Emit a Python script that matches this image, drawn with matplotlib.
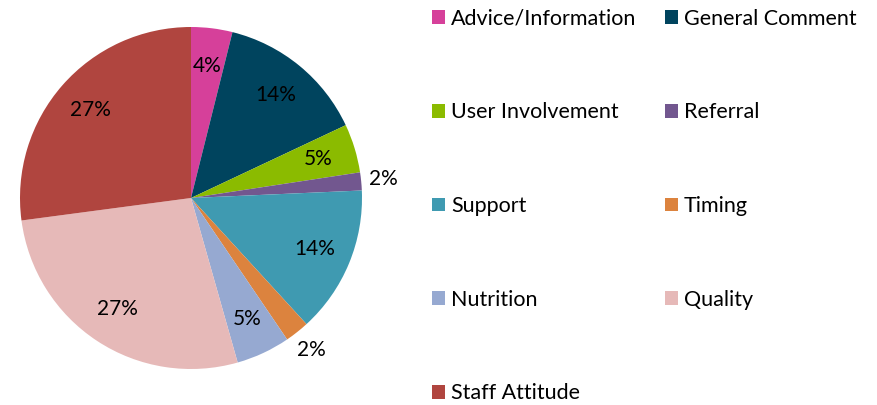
import matplotlib.pyplot as plt

# slice shares in percent, clockwise from 12 o'clock
categories = ['Advice/Information', 'General Comment', 'User Involvement', 'Referral',
              'Support', 'Timing', 'Nutrition', 'Quality', 'Staff Attitude']
shares = [3.9, 14.1, 4.6, 1.7, 13.9, 2.3, 5.1, 27.3, 27.1]
colors = ['#D6409A', '#00445E', '#8BBB00', '#72578F', '#3F9AB1',
          '#DC833E', '#96A9D1', '#E6B9B8', '#B0453F']

plt.rcParams['font.family'] = ['Lato', 'DejaVu Sans']

fig = plt.figure(figsize=(8.77, 4.05), dpi=100)
ax = fig.add_axes([20 / 877, 36 / 405, 342 / 877, 342 / 405])

wedges, texts, autotexts = ax.pie(shares, colors=colors, startangle=90, counterclock=False,
                                  autopct='%.0f%%', pctdistance=0.78,
                                  textprops={'fontsize': 15, 'color': 'black'})
# small slices get their labels outside
for i in (3, 5):
    x, y = autotexts[i].get_position()
    autotexts[i].set_position((x * 1.45, y * 1.45))
ax.set_xlim(-1, 1)
ax.set_ylim(-1, 1)
ax.set_aspect('equal')
ax.axis('off')

# legend fills row by row, two columns
order = [0, 2, 4, 6, 8, 1, 3, 5, 7]
leg = fig.legend([wedges[i] for i in order], [categories[i] for i in order],
                 ncol=2, loc='upper left', bbox_to_anchor=(419 / 877, 1.01),
                 frameon=False, fontsize=15.5, labelspacing=3.42,
                 handlelength=0.6, handleheight=0.6, handletextpad=0.3,
                 columnspacing=1.3, borderaxespad=0.2)

fig.savefig('out.png', dpi=100)
